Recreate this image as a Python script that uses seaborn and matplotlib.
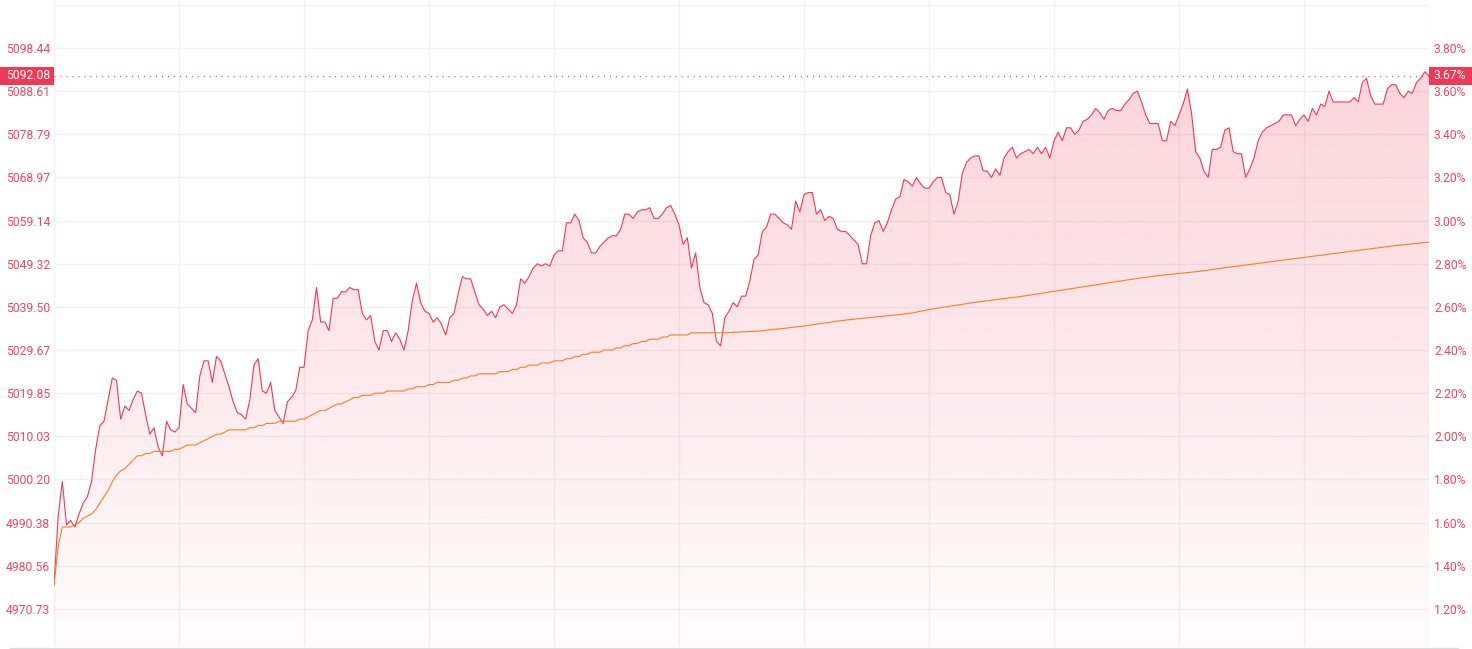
import numpy as np
import pandas as pd
import matplotlib
matplotlib.use("Agg")
import matplotlib.pyplot as plt
import matplotlib.transforms as mtransforms
from matplotlib.patches import Rectangle
from matplotlib.lines import Line2D
from matplotlib.colors import to_rgb
import seaborn as sns

# previous close, used to turn % change into index level
prev_close = 4911.79

# % change vs previous close, one value per minute
pct_change = [
    1.31, 1.63, 1.79, 1.59, 1.61, 1.58, 1.64, 1.69, 1.72, 1.79,
    1.94, 2.05, 2.07, 2.17, 2.27, 2.26, 2.08, 2.14, 2.12, 2.17,
    2.21, 2.20, 2.10, 2.01, 2.04, 1.95, 1.91, 2.07, 2.03, 2.02,
    2.04, 2.24, 2.15, 2.13, 2.11, 2.28, 2.35, 2.35, 2.25, 2.37,
    2.35, 2.29, 2.23, 2.16, 2.11, 2.10, 2.08, 2.17, 2.33, 2.36,
    2.21, 2.20, 2.25, 2.12, 2.09, 2.06, 2.16, 2.18, 2.21, 2.32,
    2.32, 2.49, 2.54, 2.69, 2.53, 2.53, 2.49, 2.64, 2.64, 2.67,
    2.67, 2.69, 2.68, 2.68, 2.57, 2.54, 2.56, 2.44, 2.40, 2.49,
    2.49, 2.44, 2.48, 2.45, 2.40, 2.49, 2.63, 2.71, 2.62, 2.58,
    2.57, 2.53, 2.55, 2.52, 2.47, 2.55, 2.57, 2.66, 2.74, 2.73,
    2.73, 2.67, 2.61, 2.59, 2.56, 2.58, 2.55, 2.60, 2.61, 2.59,
    2.57, 2.61, 2.73, 2.71, 2.74, 2.78, 2.80, 2.79, 2.80, 2.79,
    2.84, 2.86, 2.86, 2.99, 2.99, 3.03, 3.00, 2.92, 2.90, 2.85,
    2.85, 2.88, 2.90, 2.92, 2.93, 2.93, 2.96, 3.03, 3.03, 3.01,
    3.04, 3.05, 3.05, 3.06, 3.01, 3.01, 3.03, 3.06, 3.07, 3.03,
    2.98, 2.89, 2.92, 2.78, 2.85, 2.69, 2.62, 2.61, 2.57, 2.44,
    2.42, 2.55, 2.58, 2.62, 2.60, 2.65, 2.65, 2.72, 2.82, 2.84,
    2.95, 2.97, 3.03, 3.03, 3.01, 2.99, 2.98, 2.96, 3.09, 3.04,
    3.12, 3.13, 3.13, 3.03, 3.05, 3.00, 3.02, 3.01, 2.96, 2.95,
    2.95, 2.93, 2.91, 2.89, 2.80, 2.80, 2.93, 2.99, 3.00, 2.95,
    2.99, 3.05, 3.10, 3.11, 3.19, 3.18, 3.16, 3.20, 3.17, 3.15,
    3.15, 3.18, 3.20, 3.20, 3.13, 3.12, 3.03, 3.09, 3.22, 3.27,
    3.29, 3.30, 3.30, 3.23, 3.23, 3.20, 3.24, 3.21, 3.29, 3.32,
    3.34, 3.29, 3.31, 3.32, 3.33, 3.31, 3.34, 3.31, 3.34, 3.29,
    3.37, 3.41, 3.37, 3.43, 3.43, 3.40, 3.42, 3.46, 3.47, 3.49,
    3.52, 3.50, 3.47, 3.51, 3.52, 3.51, 3.51, 3.54, 3.56, 3.59,
    3.60, 3.55, 3.49, 3.45, 3.45, 3.45, 3.37, 3.37, 3.46, 3.44,
    3.49, 3.54, 3.61, 3.50, 3.32, 3.29, 3.23, 3.20, 3.33, 3.33,
    3.34, 3.42, 3.43, 3.32, 3.31, 3.31, 3.20, 3.24, 3.29, 3.37,
    3.41, 3.43, 3.44, 3.45, 3.46, 3.49, 3.49, 3.49, 3.44, 3.47,
    3.49, 3.46, 3.52, 3.49, 3.54, 3.53, 3.60, 3.55, 3.55, 3.55,
    3.55, 3.55, 3.57, 3.55, 3.64, 3.66, 3.58, 3.54, 3.54, 3.54,
    3.61, 3.63, 3.63, 3.59, 3.57, 3.60, 3.59, 3.64, 3.66, 3.69,
    3.6706,
]

# average price line, as % change vs previous close
avg_pct = [
    1.31, 1.49, 1.58, 1.58, 1.58, 1.59, 1.60, 1.62, 1.63, 1.64,
    1.66, 1.69, 1.72, 1.75, 1.79, 1.82, 1.84, 1.85, 1.87, 1.89,
    1.91, 1.91, 1.92, 1.92, 1.93, 1.93, 1.93, 1.93, 1.93, 1.94,
    1.94, 1.95, 1.96, 1.96, 1.96, 1.97, 1.98, 1.99, 2.00, 2.01,
    2.01, 2.02, 2.03, 2.03, 2.03, 2.03, 2.03, 2.04, 2.04, 2.05,
    2.05, 2.06, 2.06, 2.06, 2.07, 2.07, 2.07, 2.07, 2.07, 2.08,
    2.08, 2.09, 2.10, 2.11, 2.12, 2.12, 2.13, 2.14, 2.15, 2.15,
    2.16, 2.17, 2.18, 2.18, 2.19, 2.19, 2.19, 2.20, 2.20, 2.20,
    2.21, 2.21, 2.21, 2.21, 2.21, 2.22, 2.22, 2.23, 2.23, 2.23,
    2.24, 2.24, 2.25, 2.25, 2.25, 2.25, 2.26, 2.26, 2.27, 2.27,
    2.28, 2.28, 2.29, 2.29, 2.29, 2.29, 2.29, 2.30, 2.30, 2.30,
    2.31, 2.31, 2.32, 2.32, 2.33, 2.33, 2.33, 2.34, 2.34, 2.34,
    2.35, 2.35, 2.35, 2.36, 2.36, 2.37, 2.37, 2.38, 2.38, 2.39,
    2.39, 2.39, 2.40, 2.40, 2.40, 2.41, 2.41, 2.42, 2.42, 2.43,
    2.43, 2.44, 2.44, 2.45, 2.45, 2.45, 2.46, 2.46, 2.47, 2.47,
    2.47, 2.47, 2.47, 2.48, 2.48, 2.48, 2.48, 2.48, 2.48, 2.48,
    2.480, 2.480, 2.481, 2.482, 2.483, 2.484, 2.485, 2.486, 2.487, 2.488,
    2.490, 2.492, 2.494, 2.496, 2.498, 2.500, 2.502, 2.505, 2.507, 2.509,
    2.511, 2.514, 2.517, 2.520, 2.523, 2.526, 2.528, 2.531, 2.534, 2.536,
    2.539, 2.541, 2.543, 2.545, 2.547, 2.549, 2.551, 2.553, 2.555, 2.557,
    2.559, 2.561, 2.563, 2.565, 2.567, 2.569, 2.572, 2.576, 2.580, 2.584,
    2.588, 2.591, 2.594, 2.597, 2.600, 2.603, 2.606, 2.609, 2.612, 2.615,
    2.618, 2.621, 2.623, 2.626, 2.628, 2.631, 2.633, 2.636, 2.638, 2.641,
    2.643, 2.646, 2.648, 2.651, 2.654, 2.657, 2.660, 2.663, 2.666, 2.669,
    2.672, 2.675, 2.678, 2.681, 2.684, 2.687, 2.690, 2.693, 2.696, 2.699,
    2.702, 2.705, 2.708, 2.711, 2.714, 2.717, 2.720, 2.723, 2.726, 2.729,
    2.732, 2.735, 2.737, 2.740, 2.742, 2.745, 2.747, 2.749, 2.751, 2.753,
    2.755, 2.757, 2.759, 2.761, 2.763, 2.765, 2.768, 2.770, 2.773, 2.776,
    2.779, 2.782, 2.784, 2.787, 2.789, 2.792, 2.794, 2.797, 2.799, 2.802,
    2.804, 2.807, 2.809, 2.812, 2.814, 2.817, 2.819, 2.822, 2.824, 2.827,
    2.829, 2.832, 2.834, 2.837, 2.839, 2.842, 2.844, 2.847, 2.849, 2.852,
    2.854, 2.857, 2.859, 2.862, 2.864, 2.867, 2.869, 2.872, 2.874, 2.877,
    2.879, 2.882, 2.884, 2.886, 2.888, 2.890, 2.892, 2.894, 2.896, 2.898,
    2.900,
]

# gridline levels in % (the top one has no label)
pct_ticks = [1.2, 1.4, 1.6, 1.8, 2.0, 2.2, 2.4, 2.6, 2.8, 3.0, 3.2, 3.4, 3.6, 3.8, 4.0]
pct_range = (1.0236, 4.0225)
grid_every = 30

RED = "#ef3a55"
ORANGE = "#f7811f"
TICK = "#f0465f"
GRID = "#f2f2f2"

sns.set_style("white")
plt.rcParams["font.family"] = ["Roboto", "DejaVu Sans"]

W, H = 1472, 649
fig = plt.figure(figsize=(W / 100, H / 100), dpi=100)
left_px, right_px, top_px, bottom_px = 54, 1429, 0, 647
ax = fig.add_axes([left_px / W, (H - bottom_px) / H,
                   (right_px - left_px) / W, (bottom_px - top_px) / H])

df = pd.DataFrame({"t": np.arange(len(pct_change)), "pct": pct_change, "avg_pct": avg_pct})
df["price"] = prev_close * (1 + df["pct"] / 100)
df["avg"] = prev_close * (1 + df["avg_pct"] / 100)
n = len(df)

lo = prev_close * (1 + pct_range[0] / 100)
hi = prev_close * (1 + pct_range[1] / 100)

# gradient area under the price line
poly = ax.fill_between(df["t"], df["price"], lo, facecolor="none", edgecolor="none")
alpha = np.linspace(0.015, 0.24, 256)
rgba = np.zeros((256, 1, 4))
rgba[..., :3] = to_rgb(RED)
rgba[:, 0, 3] = alpha
img = ax.imshow(rgba, extent=[0, n - 1, lo, hi], origin="lower", aspect="auto", zorder=1)
img.set_clip_path(poly.get_paths()[0], transform=ax.transData)

sns.lineplot(data=df, x="t", y="price", color=RED, linewidth=0.8, ax=ax, zorder=3)
sns.lineplot(data=df, x="t", y="avg", color=ORANGE, linewidth=0.8, ax=ax, zorder=3)

last_price = df["price"].iloc[-1]
last_pct = df["pct"].iloc[-1]
ax.axhline(last_price, color=RED, linewidth=1, dashes=(0.7, 3.6), zorder=2)

ax.set_xlim(0, n - 1)
ax.set_ylim(lo, hi)
ax.set_xlabel("")
ax.set_ylabel("")
ax.set_xticks(range(0, n, grid_every))
ax.set_xticklabels([])
price_ticks = [prev_close * (1 + p / 100) for p in pct_ticks]
ax.set_yticks(price_ticks)
ax.set_yticklabels([f"{v:.2f}" if p < 3.9 else "" for v, p in zip(price_ticks, pct_ticks)])
for lab in ax.get_yticklabels():
    lab.set_horizontalalignment("left")
ax.tick_params(axis="both", length=0)
ax.tick_params(axis="y", pad=34.6, labelsize=8.7, labelcolor=TICK)
ax.grid(True, color=GRID, linewidth=1)
for s in ax.spines.values():
    s.set_visible(False)

ax2 = ax.twinx()
ax2.set_ylim(*pct_range)
ax2.set_yticks(pct_ticks)
ax2.set_yticklabels([f"{p:.2f}%" if p < 3.9 else "" for p in pct_ticks])
ax2.tick_params(axis="y", length=0, pad=3.6, labelsize=8.7, labelcolor=TICK)
ax2.grid(False)
for s in ax2.spines.values():
    s.set_visible(False)

# last value tags on both sides
h = 17.5 * (pct_range[1] - pct_range[0]) / (bottom_px - top_px)
trans = mtransforms.blended_transform_factory(fig.transFigure, ax2.transData)
ax2.add_patch(Rectangle((0, last_pct - h / 2), left_px / W, h, transform=trans,
                        facecolor=RED, edgecolor="none", clip_on=False, zorder=5))
ax2.text(6 / W, last_pct, f"{last_price:.2f}", transform=trans, color="white",
         va="center", ha="left", fontsize=8.7, clip_on=False, zorder=6)
ax2.add_patch(Rectangle((right_px / W, last_pct - h / 2), (W - right_px) / W, h, transform=trans,
                        facecolor=RED, edgecolor="none", clip_on=False, zorder=5))
ax2.text((right_px + 4.5) / W, last_pct, f"{last_pct:.2f}%", transform=trans, color="white",
         va="center", ha="left", fontsize=8.7, clip_on=False, zorder=6)

# bottom axis line
fig.add_artist(Line2D([10 / W, 1458 / W], [(H - 647.5) / H] * 2, color="#dcdcdc", linewidth=1))

fig.savefig("out.png", dpi=100)
